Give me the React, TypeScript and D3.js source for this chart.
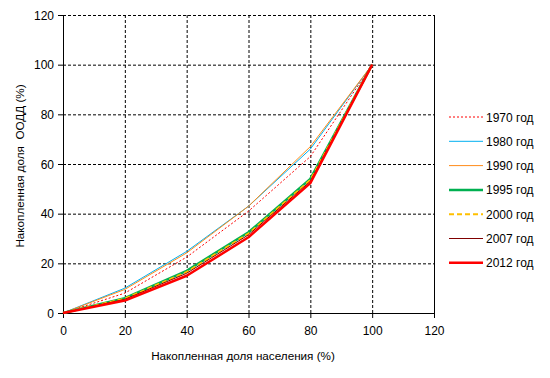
import React from "react";
import * as d3 from "d3";

const xValues = [0, 20, 40, 60, 80, 100];
const s1970 = [0, 8, 22.5, 41, 63, 100];
const s1980 = [0, 10, 24.8, 43, 66, 100];
const s1990 = [0, 9.5, 24.2, 43, 67, 100];
const s1995 = [0, 6, 17, 32.5, 54, 100];
const s2000 = [0, 5.8, 16.5, 32, 53.5, 100];
const s2007 = [0, 5.5, 16, 31.5, 53, 100];
const s2012 = [0, 5, 15, 30.5, 52.3, 100];
const seriesNames = ["1970 год", "1980 год", "1990 год", "1995 год", "2000 год", "2007 год", "2012 год"];
const xTicks = [0, 20, 40, 60, 80, 100, 120];
const yTicks = [0, 20, 40, 60, 80, 100, 120];

const styles = [
  { color: "#FF0000", width: 1, dash: "2,2" },
  { color: "#00B0F0", width: 1, dash: "" },
  { color: "#FF8C1A", width: 1, dash: "" },
  { color: "#00B050", width: 2.5, dash: "" },
  { color: "#FFC000", width: 2, dash: "5,3" },
  { color: "#800000", width: 1, dash: "" },
  { color: "#FF0000", width: 2.5, dash: "" },
];

export default function App() {
  const W = 550, H = 378;
  const x = d3.scaleLinear().domain([0, 120]).range([63, 434]);
  const y = d3.scaleLinear().domain([0, 120]).range([313, 15]);
  const all = [s1970, s1980, s1990, s1995, s2000, s2007, s2012];
  const line = d3.line<number>().x((_, i) => x(xValues[i])).y((d) => y(d));
  const font = "'Liberation Sans', Arial, sans-serif";
  return (
    <svg width={W} height={H} style={{ position: "absolute", left: 0, top: 0 }} fontFamily={font}>
      <rect x={0} y={0} width={W} height={H} fill="#fff" />
      {yTicks.filter((t) => t > 0).map((t) => (
        <line key={"gy" + t} x1={x(0)} x2={x(120)} y1={y(t) + 0.5} y2={y(t) + 0.5} stroke="#000" strokeDasharray="3,2" />
      ))}
      {xTicks.filter((t) => t > 0 && t < 120).map((t) => (
        <line key={"gx" + t} x1={x(t) + 0.5} x2={x(t) + 0.5} y1={y(0)} y2={y(120)} stroke="#000" strokeDasharray="3,2" />
      ))}
      <line x1={x(120) + 0.5} x2={x(120) + 0.5} y1={y(0)} y2={y(120)} stroke="#000" />
      <line x1={x(0) + 0.5} x2={x(0) + 0.5} y1={y(0)} y2={y(120)} stroke="#000" />
      <line x1={x(0)} x2={x(120) + 1} y1={y(0) + 0.5} y2={y(0) + 0.5} stroke="#000" />
      {yTicks.map((t) => (
        <g key={"ty" + t}>
          <line x1={x(0) - 5} x2={x(0)} y1={y(t) + 0.5} y2={y(t) + 0.5} stroke="#000" />
          <text x={54} y={y(t) + 4.5} textAnchor="end" fontSize={12}>{t}</text>
        </g>
      ))}
      {xTicks.map((t) => (
        <g key={"tx" + t}>
          <line x1={x(t) + 0.5} x2={x(t) + 0.5} y1={y(0)} y2={y(0) + 5} stroke="#000" />
          <text x={x(t) + 0.5} y={335} textAnchor="middle" fontSize={12}>{t}</text>
        </g>
      ))}
      {all.map((s, i) => (
        <path key={"s" + i} d={line(s) || ""} fill="none" stroke={styles[i].color} strokeWidth={styles[i].width}
          strokeDasharray={styles[i].dash || undefined} strokeLinejoin="round" />
      ))}
      {seriesNames.map((n, i) => {
        const ly = 117 + i * 24.3;
        return (
          <g key={"l" + i}>
            <line x1={449} x2={483} y1={ly} y2={ly} stroke={styles[i].color} strokeWidth={styles[i].width}
              strokeDasharray={styles[i].dash || undefined} />
            <text x={486} y={ly + 4.5} fontSize={12}>{n}</text>
          </g>
        );
      })}
      <text x={243} y={360} textAnchor="middle" fontSize={11.7}>Накопленная доля населения (%)</text>
      <text transform={`translate(24,166) rotate(-90)`} textAnchor="middle" fontSize={11.7} style={{ whiteSpace: "pre" }}>Накопленная доля  ООДД (%)</text>
    </svg>
  );
}
